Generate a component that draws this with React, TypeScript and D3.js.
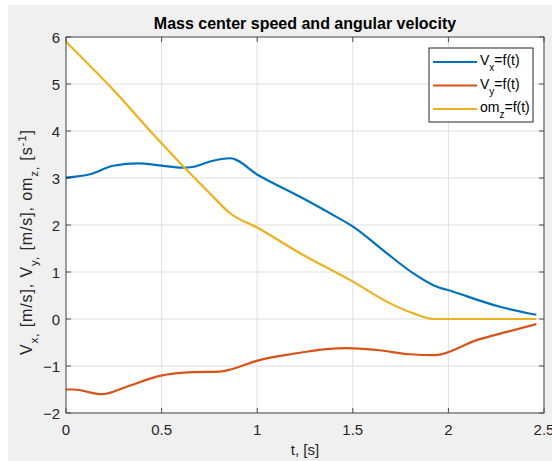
import React from "react";
import * as d3 from "d3";

// Mass center speed components and angular velocity over time
const vxT = [0, 0.126, 0.247, 0.378, 0.49, 0.61, 0.667, 0.753, 0.858, 1.006, 1.224, 1.398, 1.503, 1.677, 1.817, 1.921, 2.026, 2.27, 2.46];
const vxV = [3.01, 3.08, 3.26, 3.31, 3.27, 3.22, 3.24, 3.35, 3.42, 3.06, 2.6, 2.21, 1.96, 1.4, 0.97, 0.72, 0.58, 0.26, 0.09];

const vyT = [0, 0.038, 0.187, 0.317, 0.49, 0.666, 0.805, 0.866, 0.997, 1.189, 1.363, 1.468, 1.625, 1.8, 1.93, 2.148, 2.3, 2.46];
const vyV = [-1.5, -1.5, -1.6, -1.44, -1.21, -1.13, -1.12, -1.07, -0.89, -0.74, -0.64, -0.62, -0.66, -0.75, -0.77, -0.45, -0.28, -0.11];

const omT = [0, 0.23, 0.49, 0.61, 0.753, 0.858, 1.006, 1.224, 1.503, 1.677, 1.817, 1.921, 2.46];
const omV = [5.9, 4.95, 3.78, 3.26, 2.67, 2.25, 1.93, 1.4, 0.79, 0.37, 0.12, 0.0, 0.0];

const xTicks = [0, 0.5, 1, 1.5, 2, 2.5];
const yTicks = [-2, -1, 0, 1, 2, 3, 4, 5, 6];

const seriesNames = ["V", "V", "om"];
const seriesSubs = ["x", "y", "z"];
const colors = ["#0072BD", "#D95319", "#EDB120"];

const W = 552;
const H = 461;
const left = 66, right = 544, top = 37, bottom = 413;
const font = "'Liberation Sans', Arial, Helvetica, sans-serif";

export default function App() {
  const x = d3.scaleLinear().domain([0, 2.5]).range([left, right]);
  const y = d3.scaleLinear().domain([-2, 6]).range([bottom, top]);
  const line = d3
    .line<[number, number]>()
    .x((d) => x(d[0]))
    .y((d) => y(d[1]))
    .curve(d3.curveMonotoneX);

  const series = [
    vxT.map((t, i) => [t, vxV[i]] as [number, number]),
    vyT.map((t, i) => [t, vyV[i]] as [number, number]),
    omT.map((t, i) => [t, omV[i]] as [number, number]),
  ];

  const axisColor = "#262626";
  const tickLen = 5;
  const fmt = (v: number) => (v < 0 ? "\u2212" + Math.abs(v) : String(v));

  const legX = 429, legY = 48, legW = 104, legH = 74;

  return (
    <svg
      width={W}
      height={H}
      style={{ position: "absolute", left: 0, top: 0 }}
      fontFamily={font}
    >
      <rect x={0} y={0} width={W} height={H} fill="#ffffff" />
      <rect x={8} y={5} width={W - 8} height={H - 5} fill="#f0f0f0" />
      <rect x={left} y={top} width={right - left} height={bottom - top} fill="#ffffff" />

      {/* grid */}
      <g stroke="#dfdfdf" strokeWidth={1}>
        {xTicks.map((t) => (
          <line key={"gx" + t} x1={x(t)} x2={x(t)} y1={top} y2={bottom} />
        ))}
        {yTicks.map((v) => (
          <line key={"gy" + v} x1={left} x2={right} y1={y(v)} y2={y(v)} />
        ))}
      </g>

      {/* data lines */}
      <defs>
        <clipPath id="plotClip">
          <rect x={left} y={top} width={right - left} height={bottom - top} />
        </clipPath>
      </defs>
      <g clipPath="url(#plotClip)" fill="none" strokeWidth={2.2} strokeLinejoin="round">
        {series.map((s, i) => (
          <path key={"s" + i} d={line(s) || ""} stroke={colors[i]} />
        ))}
      </g>

      {/* box and ticks */}
      <g stroke={axisColor} strokeWidth={1} opacity={0.8}>
        <rect x={left} y={top} width={right - left} height={bottom - top} fill="none" />
        {xTicks.map((t) => (
          <g key={"tx" + t}>
            <line x1={x(t)} x2={x(t)} y1={bottom} y2={bottom - tickLen} />
            <line x1={x(t)} x2={x(t)} y1={top} y2={top + tickLen} />
          </g>
        ))}
        {yTicks.map((v) => (
          <g key={"ty" + v}>
            <line x1={left} x2={left + tickLen} y1={y(v)} y2={y(v)} />
            <line x1={right} x2={right - tickLen} y1={y(v)} y2={y(v)} />
          </g>
        ))}
      </g>

      {/* tick labels */}
      <g fontSize={15} fill={axisColor}>
        {xTicks.map((t) => (
          <text key={"lx" + t} x={x(t)} y={435} textAnchor="middle">
            {String(t)}
          </text>
        ))}
        {yTicks.map((v) => (
          <text key={"ly" + v} x={60} y={y(v) + 5.5} textAnchor="end">
            {fmt(v)}
          </text>
        ))}
      </g>

      {/* title */}
      <text x={(left + right) / 2} y={29} textAnchor="middle" fontSize={16} fontWeight="bold" fill="#000">
        Mass center speed and angular velocity
      </text>

      {/* x label */}
      <text x={(left + right) / 2} y={455} textAnchor="middle" fontSize={15} fill={axisColor}>
        t, [s]
      </text>

      {/* y label */}
      <text
        transform={`translate(32, 242) rotate(-90)`}
        textAnchor="middle"
        fontSize={16}
        letterSpacing={0.9}
        fill={axisColor}
      >
        V<tspan baselineShift="sub" fontSize={11.5}>x,</tspan>
        <tspan> [m/s], V</tspan>
        <tspan baselineShift="sub" fontSize={11.5}>y,</tspan>
        <tspan> [m/s], om</tspan>
        <tspan baselineShift="sub" fontSize={11.5}>z,</tspan>
        <tspan> [s</tspan>
        <tspan baselineShift="super" fontSize={11.5}>-1</tspan>
        <tspan>]</tspan>
      </text>

      {/* legend */}
      <g>
        <rect x={legX} y={legY} width={legW} height={legH} fill="#ffffff" stroke={axisColor} strokeWidth={1} />
        {seriesNames.map((n, i) => {
          const ry = legY + 14 + i * 23.5;
          return (
            <g key={"lg" + i}>
              <line x1={433} x2={477} y1={ry} y2={ry} stroke={colors[i]} strokeWidth={2.2} />
              <text x={480} y={ry + 3} fontSize={14} fill="#000">
                {n}
                <tspan baselineShift="sub" fontSize={10}>{seriesSubs[i]}</tspan>
                <tspan>=f(t)</tspan>
              </text>
            </g>
          );
        })}
      </g>
    </svg>
  );
}
